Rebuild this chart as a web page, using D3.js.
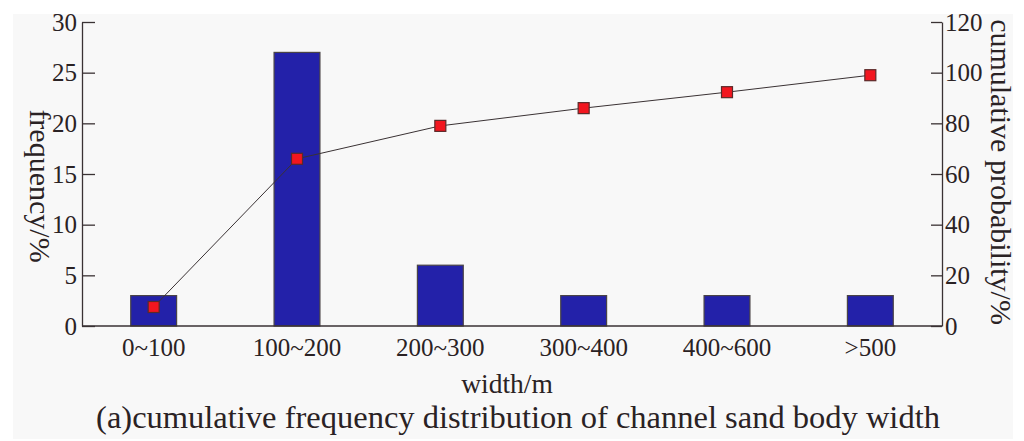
<!DOCTYPE html>
<html>
<head>
<meta charset="utf-8">
<script src="https://cdn.jsdelivr.net/npm/d3@7"></script>
<style>
body { margin: 0; background: #fff; }
svg text { font-family: "Liberation Serif", "DejaVu Serif", serif; fill: #2a2224; }
</style>
</head>
<body>
<div id="chart"></div>
<script>
var categories = ["0~100", "100~200", "200~300", "300~400", "400~600", ">500"];
var frequency = [3, 27, 6, 3, 3, 3];
var cumulative = [7.5, 66, 79, 86, 92.3, 99];
var leftTicks = [0, 5, 10, 15, 20, 25, 30];
var rightTicks = [0, 20, 40, 60, 80, 100, 120];

var width = 1024, height = 441;
var plotL = 82, plotR = 942, plotT = 22, plotB = 326;
var ink = "#3a3234";

var svg = d3.select("#chart").append("svg")
    .attr("width", width)
    .attr("height", height);

svg.append("rect")
    .attr("x", 13).attr("y", 14)
    .attr("width", 1000).attr("height", 425)
    .attr("fill", "#f8f8f8");

var x = d3.scaleBand()
    .domain(categories)
    .range([plotL, plotR])
    .paddingInner(0.68)
    .paddingOuter(0.34);
var yL = d3.scaleLinear().domain([0, 30]).range([plotB, plotT]);
var yR = d3.scaleLinear().domain([0, 120]).range([plotB, plotT]);

// bars
svg.selectAll("rect.bar")
    .data(frequency)
    .enter().append("rect")
    .attr("class", "bar")
    .attr("x", function(d, i) { return x(categories[i]); })
    .attr("y", function(d) { return yL(d); })
    .attr("width", x.bandwidth())
    .attr("height", function(d) { return yL(0) - yL(d); })
    .attr("fill", "#2321a9")
    .attr("stroke", "#4a4446")
    .attr("stroke-width", 1.2);

// axes
var axL = svg.append("g")
    .attr("transform", "translate(" + plotL + ",0)")
    .call(d3.axisLeft(yL).tickValues(leftTicks).tickSizeInner(-13).tickSizeOuter(0));
var axR = svg.append("g")
    .attr("transform", "translate(" + plotR + ",0)")
    .call(d3.axisRight(yR).tickValues(rightTicks).tickSizeInner(-11).tickSizeOuter(0));
var axB = svg.append("g")
    .attr("transform", "translate(0," + plotB + ")")
    .call(d3.axisBottom(x).tickSize(0).tickPadding(12));

[axL, axR, axB].forEach(function(a) {
    a.attr("font-size", null).attr("font-family", null);
    a.select(".domain").attr("stroke", ink).attr("stroke-width", 1.3);
    a.selectAll(".tick line").attr("stroke", ink).attr("stroke-width", 1.3);
    a.selectAll("text")
        .style("font-size", "25px")
        .attr("fill", "#2a2224");
});
axB.select(".domain").attr("d", "M" + plotL + ",0H" + plotR);
axL.selectAll(".tick text").attr("x", -5).attr("dy", "0.33em");
axR.selectAll(".tick text").attr("x", 3).attr("dy", "0.33em");

// cumulative line
var line = d3.line()
    .x(function(d, i) { return x(categories[i]) + x.bandwidth() / 2; })
    .y(function(d) { return yR(d); });
svg.append("path")
    .datum(cumulative)
    .attr("d", line)
    .attr("fill", "none")
    .attr("stroke", "#3a3234")
    .attr("stroke-width", 1);

var m = 11;
svg.selectAll("rect.pt")
    .data(cumulative)
    .enter().append("rect")
    .attr("class", "pt")
    .attr("x", function(d, i) { return x(categories[i]) + x.bandwidth() / 2 - m / 2; })
    .attr("y", function(d) { return yR(d) - m / 2; })
    .attr("width", m).attr("height", m)
    .attr("fill", "#f2161f")
    .attr("stroke", "#5a2a2a")
    .attr("stroke-width", 1.2);

// titles
svg.append("text")
    .attr("transform", "translate(30,186) rotate(90)")
    .attr("text-anchor", "middle")
    .style("font-size", "30px")
    .text("frequency/%");
svg.append("text")
    .attr("transform", "translate(991,172) rotate(90)")
    .attr("text-anchor", "middle")
    .style("font-size", "30px")
    .text("cumulative probability/%");
svg.append("text")
    .attr("x", 507).attr("y", 393)
    .attr("text-anchor", "middle")
    .style("font-size", "27.5px")
    .text("width/m");
svg.append("text")
    .attr("x", 518).attr("y", 428)
    .attr("text-anchor", "middle")
    .style("font-size", "32.5px")
    .text("(a)cumulative frequency distribution of channel sand body width");
</script>
</body>
</html>
